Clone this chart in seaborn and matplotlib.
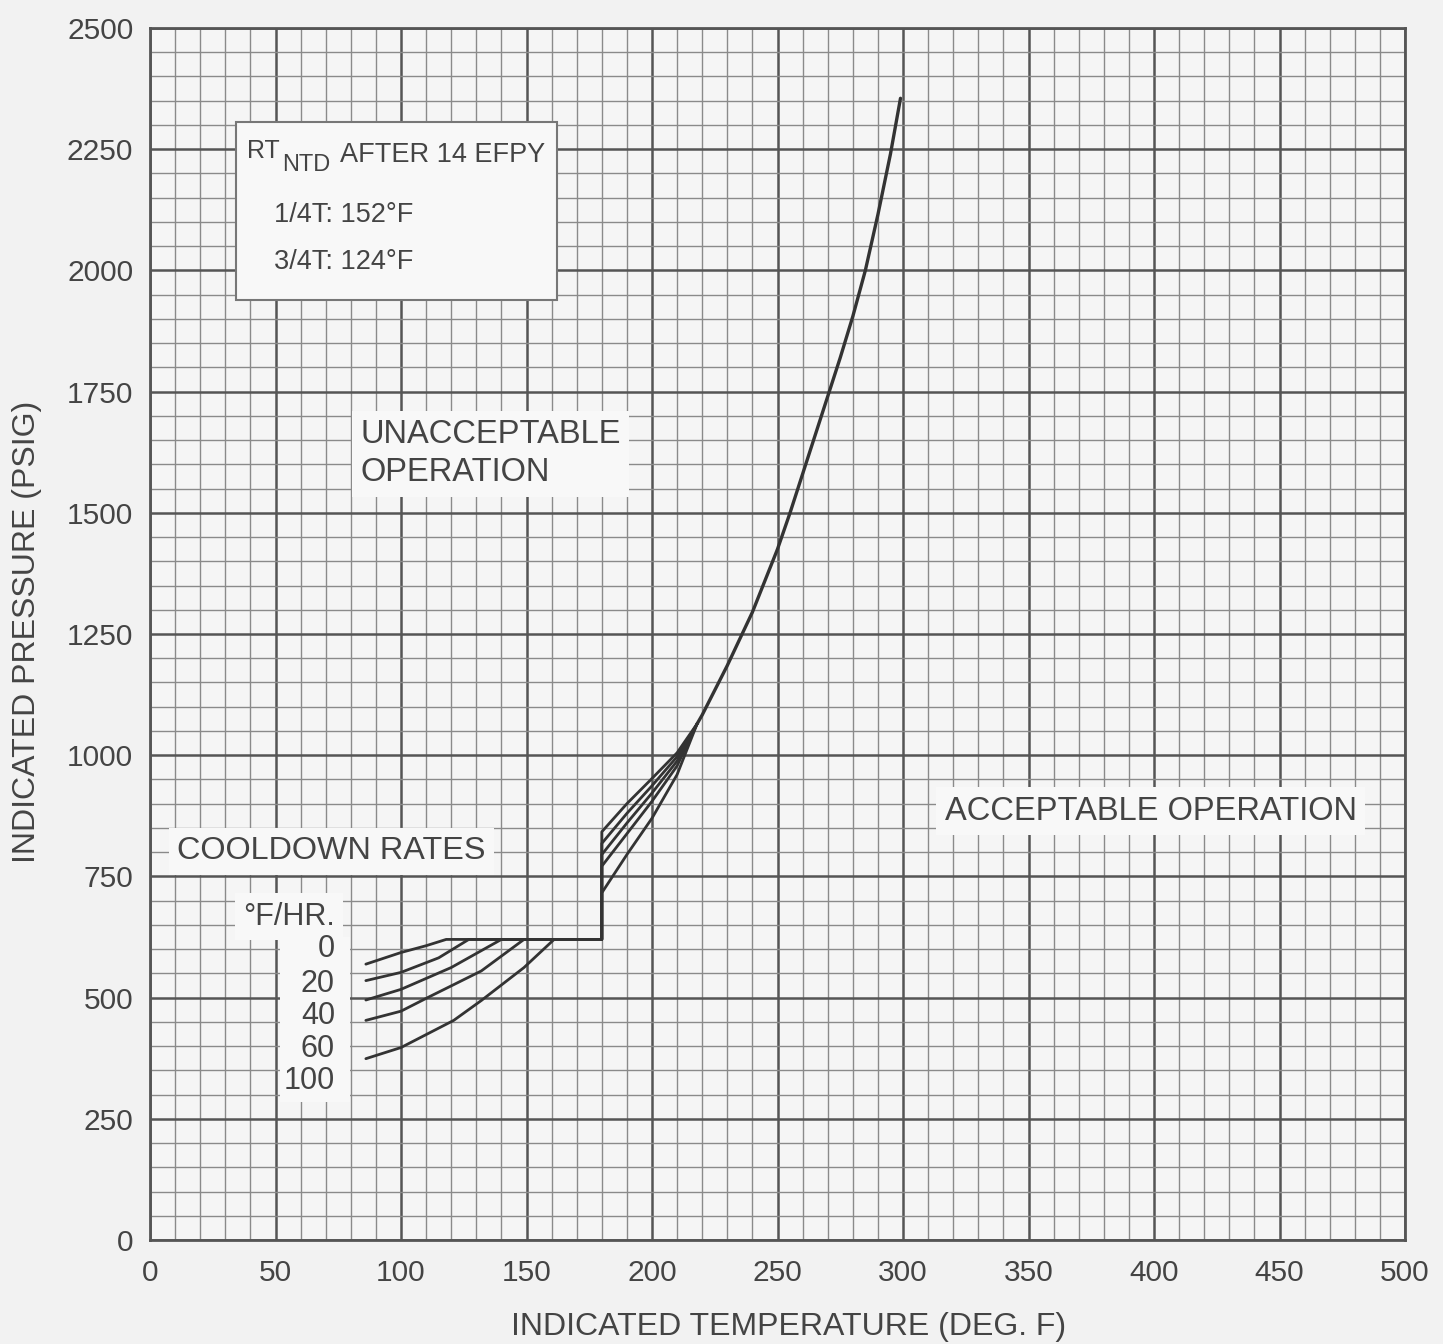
import numpy as np
import pandas as pd
import matplotlib.pyplot as plt
import seaborn as sns
from matplotlib.ticker import MultipleLocator
from matplotlib.patches import Rectangle

# main limit curve (all cooldown rates merge into it above ~218 F)
main_temp = [218, 220, 230, 240, 250, 255, 260, 265, 270, 275, 280, 285, 290, 295, 299]
main_press = [1065, 1083, 1185, 1295, 1425, 1500, 1580, 1660, 1740, 1820, 1905, 2000, 2115, 2240, 2355]

rates = ["0", "20", "40", "60", "100"]

# low temperature part of each cooldown curve, ends on the 620 psig shelf
low_temp = {
    "0": [86, 100, 110, 118],
    "20": [86, 100, 115, 127],
    "40": [86, 100, 120, 140],
    "60": [86, 100, 111, 132, 149],
    "100": [86, 100, 121, 132, 149, 161],
}
low_press = {
    "0": [569, 593, 607, 620],
    "20": [535, 552, 582, 620],
    "40": [495, 517, 562, 620],
    "60": [453, 472, 501, 555, 620],
    "100": [374, 397, 453, 494, 562, 620],
}

# fan between the step at 180 F and the main curve
fan_temp = [180, 190, 200, 210, 218]
fan_press = {
    "0": [842, 900, 952, 1005, 1065],
    "20": [818, 880, 937, 997, 1065],
    "40": [795, 860, 922, 988, 1065],
    "60": [771, 838, 905, 978, 1065],
    "100": [716, 795, 870, 960, 1065],
}
shelf_press = 620
step_temp = 180

rows = []
for r in rates:
    t = low_temp[r] + [step_temp] + fan_temp
    p = low_press[r] + [shelf_press] + fan_press[r]
    for i in range(len(t)):
        rows.append({"rate": r, "order": i, "temp": t[i], "press": p[i]})
curves = pd.DataFrame(rows)
main_df = pd.DataFrame({"temp": main_temp, "press": main_press})

sns.set_style("white")
plt.rcParams['font.family'] = ['Liberation Sans', 'DejaVu Sans']
plt.rcParams['mathtext.default'] = 'regular'

txt = '#444444'
bg = '#f2f2f2'
fig = plt.figure(figsize=(14.43, 13.44), dpi=100, facecolor=bg)
ax = fig.add_axes([150 / 1443, 1 - 1240 / 1344, 1255 / 1443, 1212 / 1344])
ax.set_facecolor('#f5f5f5')

sns.lineplot(data=curves, x="temp", y="press", units="rate", estimator=None, sort=False,
             color="#333333", lw=2.0, ax=ax, zorder=3)
sns.lineplot(data=main_df, x="temp", y="press", estimator=None, sort=False,
             color="#333333", lw=2.4, ax=ax, zorder=3)

ax.set_xlim(0, 500)
ax.set_ylim(0, 2500)
ax.xaxis.set_major_locator(MultipleLocator(50))
ax.xaxis.set_minor_locator(MultipleLocator(10))
ax.yaxis.set_major_locator(MultipleLocator(250))
ax.yaxis.set_minor_locator(MultipleLocator(50))
ax.grid(which='major', color='#555555', lw=1.8)
ax.grid(which='minor', color='#8a8a8a', lw=1.0)
ax.set_axisbelow(True)
ax.tick_params(which='both', length=0, labelsize=21.5, labelcolor=txt)
ax.tick_params(axis='x', pad=14)
ax.tick_params(axis='y', pad=12)
ax.set_xlabel('')
ax.set_ylabel('')
for s in ax.spines.values():
    s.set_color('#555555')
    s.set_linewidth(2)

fig.text(789 / 1443, 1 - 1327 / 1344, 'INDICATED TEMPERATURE (DEG. F)', ha='center', va='center',
         fontsize=23, color=txt)
fig.text(27 / 1443, 1 - 632 / 1344, 'INDICATED PRESSURE (PSIG)', ha='center', va='center',
         rotation=90, fontsize=23, color=txt)

# RT_NTD box
ax.add_patch(Rectangle((34.3, 1938), 127.7, 368, facecolor='#f8f8f8', edgecolor='#777777',
                       lw=1.5, zorder=4))
ax.text(38.6, 2246, 'RT', fontsize=18, color=txt, va='center', zorder=5)
ax.text(52.6, 2218, 'NTD', fontsize=17, color=txt, va='center', zorder=5)
ax.text(75.7, 2238, 'AFTER 14 EFPY', fontsize=19.5, color=txt, va='center', zorder=5)
ax.text(49.4, 2114, '1/4T: 152°F', fontsize=19.5, color=txt, va='center', zorder=5)
ax.text(49.4, 2017, '3/4T: 124°F', fontsize=19.5, color=txt, va='center', zorder=5)

box = dict(facecolor='#f8f8f8', edgecolor='none', pad=6)
ax.text(83.7, 1622, 'UNACCEPTABLE\nOPERATION', fontsize=23.5, color=txt, va='center',
        linespacing=1.28, bbox=box, zorder=5)
ax.text(316.7, 884, 'ACCEPTABLE OPERATION', fontsize=23.5, color=txt, va='center', bbox=box, zorder=5)
ax.text(10.8, 802, 'COOLDOWN RATES', fontsize=23.3, color=txt, va='center', bbox=box, zorder=5)

ax.add_patch(Rectangle((51.8, 285), 28, 341, facecolor='#f8f8f8', edgecolor='none', zorder=4))
ax.text(73.7, 667, '°F/HR.', fontsize=22, color=txt, ha='right', va='center', bbox=box, zorder=5)
label_press = [601, 529, 463, 395, 328]
for r, p in zip(rates, label_press):
    ax.text(73.7, p, r, fontsize=22, color=txt, ha='right', va='center', zorder=5)

fig.savefig('out.png', dpi=100, facecolor=bg)
